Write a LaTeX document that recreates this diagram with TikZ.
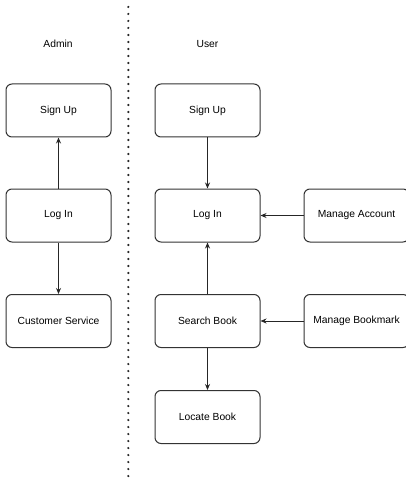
\documentclass[tikz,border=0pt]{standalone}
\usepackage{fontspec}
\setmainfont{Liberation Sans}
\usetikzlibrary{arrows.meta}
\begin{document}
\begin{tikzpicture}[x=1pt,y=-1pt,
  box/.style={draw=black!80, line width=1pt, rounded corners=6pt,
    minimum width=105pt, minimum height=53pt, inner sep=0pt,
    font=\fontsize{10.3}{12}\selectfont},
  lbl/.style={font=\fontsize{10.3}{12}\selectfont},
  link/.style={draw=black!85, line width=1pt, -{Stealth[length=6pt,width=5pt]}}]
\clip (0,0) rectangle (406,481);
\fill[white] (0,0) rectangle (406,481);

% column headings
\node[lbl] (hadmin) at (58,44) {Admin};
\node[lbl] (huser) at (207.5,44) {User};

% divider between the two roles
\coordinate (dtop) at (128.3,7);
\coordinate (dbot) at (128.3,478);
\draw[line width=2.4pt, line cap=round, dash pattern=on 0pt off 7pt, black!85] (dtop) -- (dbot);

% admin column
\node[box] (asign) at (58.5,110.5) {Sign Up};
\node[box] (alog)  at (58.5,215.5) {Log In};
\node[box] (acs)   at (58.5,321)   {Customer Service};

% user column
\node[box] (usign)   at (207.5,110.5) {Sign Up};
\node[box] (ulog)    at (207.5,215.5) {Log In};
\node[box] (usearch) at (207.5,321)   {Search Book};
\node[box] (ulocate) at (207.5,417)   {Locate Book};

% side actions
\node[box] (uacct) at (356.5,215.5) {Manage Account};
\node[box] (ubm)   at (356.5,321)   {Manage Bookmark};

% connectors
\draw[link] (alog) -- (asign);
\draw[link] (alog) -- (acs);
\draw[link] (usign) -- (ulog);
\draw[link] (usearch) -- (ulog);
\draw[link] (usearch) -- (ulocate);
\draw[link] (uacct) -- (ulog);
\draw[link] (ubm) -- (usearch);
\end{tikzpicture}
\end{document}
